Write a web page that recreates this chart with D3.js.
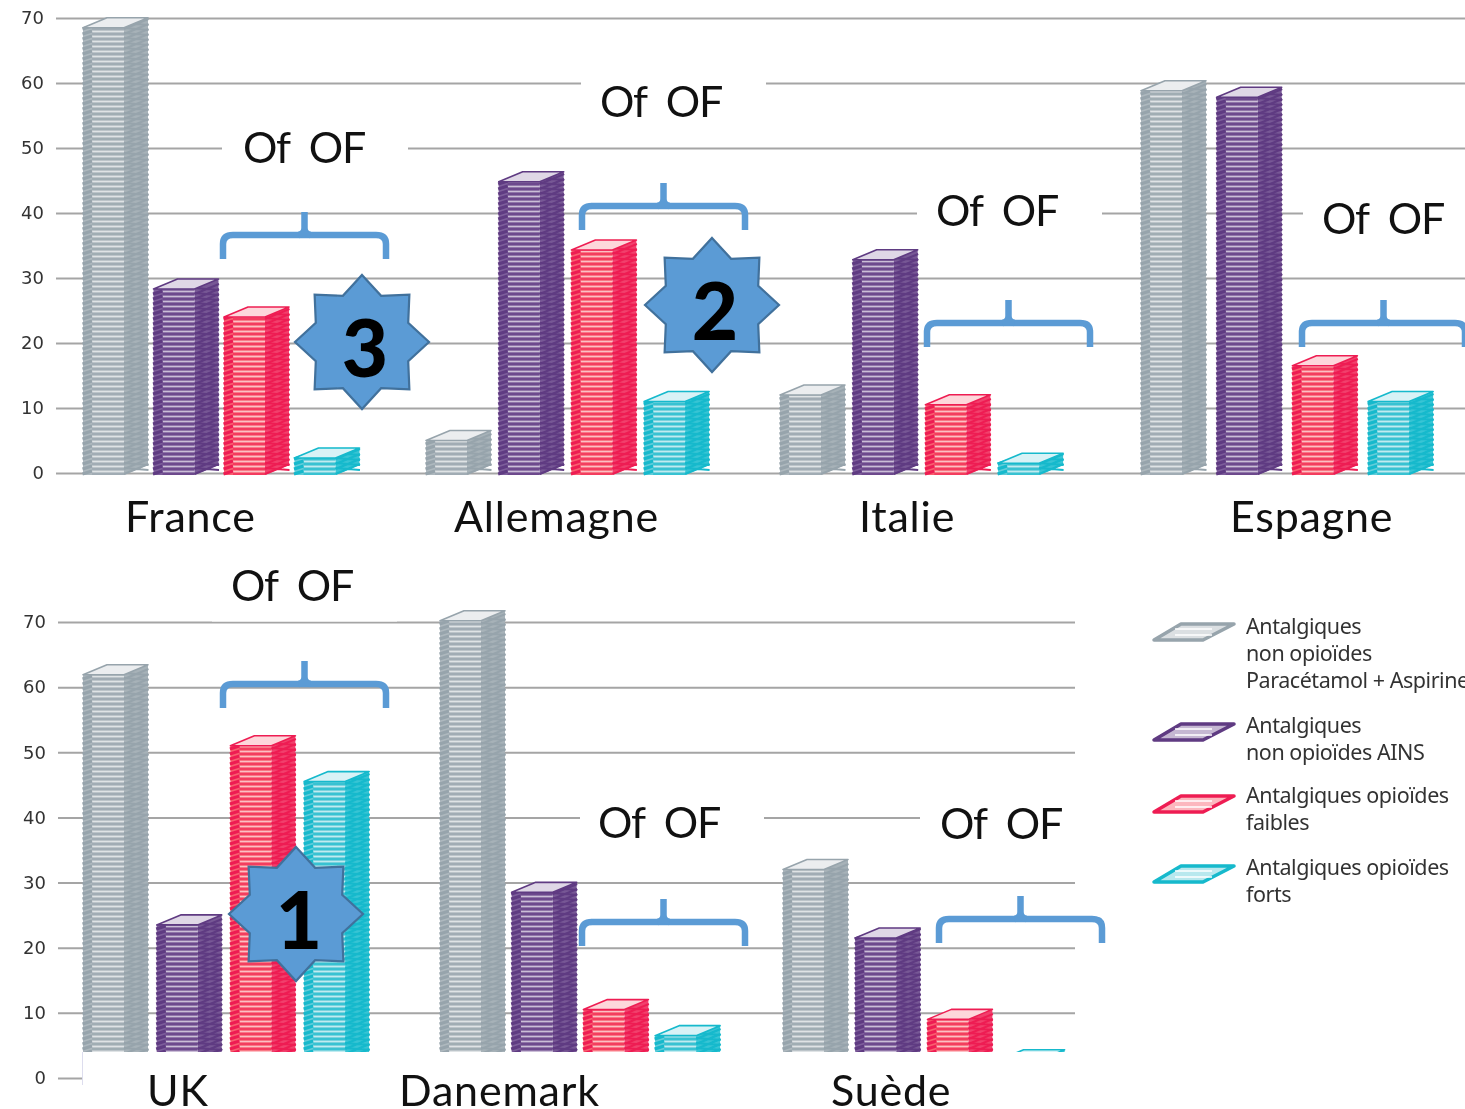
<!DOCTYPE html>
<html>
<head>
<meta charset="utf-8">
<script src="https://cdn.jsdelivr.net/npm/d3@7"></script>
<style>
  html, body { margin: 0; padding: 0; background: #fff; }
  svg { display: block; }
  .tick text { font-family: "DejaVu Sans", sans-serif; font-size: 18px; fill: #333; }
  .tick line { stroke: #a5a5a5; stroke-width: 2; }
  .label { font-family: Lato, sans-serif; font-size: 43px; fill: #111; }
  .country { letter-spacing: 0.8px; }
  .of { letter-spacing: -1.2px; }
  .badge { font-family: Lato, sans-serif; font-weight: 900; font-size: 80px; fill: #000; text-anchor: middle; }
  .legend text { font-family: "Noto Sans", sans-serif; font-size: 21.5px; letter-spacing: -0.45px; fill: #333; }
</style>
</head>
<body>
<script>
//data
var seriesNames = ["nonOpioidPara", "nonOpioidAins", "weakOpioid", "strongOpioid"];
var topCountries = ["France", "Allemagne", "Italie", "Espagne"];
var bottomCountries = ["UK", "Danemark", "Suède"];
var topValues = [
    [68.5, 28.3, 24, 2.3],
    [5, 44.8, 34.3, 11],
    [12, 32.8, 10.5, 1.5],
    [58.8, 57.8, 16.5, 11]
];
var bottomValues = [
    [61.9, 23.5, 51, 45.5],
    [70.2, 28.5, 10.5, 6.5],
    [32, 21.5, 9, 2.8]
];
var yTicks = [0, 10, 20, 30, 40, 50, 60, 70];
var legendLines = [
    ["Antalgiques", "non opioïdes", "Paracétamol + Aspirine"],
    ["Antalgiques", "non opioïdes AINS"],
    ["Antalgiques opioïdes", "faibles"],
    ["Antalgiques opioïdes", "forts"]
];

//colour for each series
var dark = d3.scaleOrdinal().domain(seriesNames).range(["#97a4ac", "#5f3a82", "#ee1f53", "#14b9cc"]);
var light = d3.scaleOrdinal().domain(seriesNames).range(["#aeb8be", "#7d5e9b", "#f8606f", "#62ccd9"]);

//layout
var w = 1465, h = 1109;
var barW = 41, depthX = 24, depthY = 10, layerGap = 5;

var svg = d3.select("body").append("svg")
    .attr("width", w)
    .attr("height", h);

var defs = svg.append("defs");
defs.append("filter").attr("id", "soft")
    .append("feGaussianBlur").attr("stdDeviation", 0.7);

var grid = svg.append("g").attr("filter", "url(#soft)");
var masks = svg.append("g");
var bars = svg.append("g").attr("filter", "url(#soft)");
var front = svg.append("g");

//scales of both panels
var yTop = d3.scaleLinear().domain([0, 70]).range([473, 18]);
var yBottom = d3.scaleLinear().domain([0, 70]).range([1078, 622]);

var groupLeftTop = d3.scaleOrdinal().domain(topCountries).range([83, 426, 780, 1141]);
var groupStepTop = d3.scaleOrdinal().domain(topCountries).range([70.5, 72.7, 72.7, 75.7]);
var groupLeftBottom = d3.scaleOrdinal().domain(bottomCountries).range([83, 440, 783]);
var groupStepBottom = d3.scaleOrdinal().domain(bottomCountries).range([73.7, 71.7, 72.2]);

function drawAxis(y, x0, x1) {
    var axis = d3.axisLeft(y)
        .tickValues(yTicks)
        .tickSize(-(x1 - x0))
        .tickPadding(12);
    var g = grid.append("g")
        .attr("transform", "translate(" + x0 + ",0)")
        .call(axis);
    g.select(".domain").remove();
}

drawAxis(yTop, 56, 1465);
drawAxis(yBottom, 58, 1075);

//white boxes behind the "Of OF" labels cut the grid lines
var gridMasks = [
    [222, 125, 186, 45],
    [581, 70, 185, 45],
    [917, 190, 185, 45],
    [1303, 190, 162, 45],
    [212, 575, 185, 46.5],
    [580, 795, 184, 45],
    [920, 795, 160, 45]
];
masks.selectAll("rect")
    .data(gridMasks)
    .enter()
    .append("rect")
    .attr("x", function(d){ return d[0]; })
    .attr("y", function(d){ return d[1]; })
    .attr("width", function(d){ return d[2]; })
    .attr("height", function(d){ return d[3]; })
    .style("fill", "#fff");

function drawBars(countries, values, y, left, step) {
    countries.forEach(function(country, c){
        var x = d3.scaleBand()
            .domain(seriesNames)
            .range([left(country), left(country) + step(country) * 4]);

        var bar = bars.selectAll(".bar-" + country)
            .data(values[c].map(function(v, i){
                return {name: seriesNames[i], value: v};
            }))
            .enter()
            .append("g")
            .attr("class", "bar-" + country)
            .attr("transform", function(d){
                return "translate(" + x(d.name) + ",0)";
            });

        //flat colours under the stripes
        bar.append("rect")
            .attr("x", 0)
            .attr("y", function(d){ return y(d.value); })
            .attr("width", barW)
            .attr("height", function(d){ return y(0) + 2 - y(d.value); })
            .style("fill", function(d){ return light(d.name); });

        bar.append("path")
            .attr("d", function(d){
                var t = y(d.value), b = y(0) + 2;
                return "M" + barW + "," + t + "L" + (barW + depthX) + "," + (t - depthY) +
                    "L" + (barW + depthX) + "," + (b - depthY) + "L" + barW + "," + b + "Z";
            })
            .style("fill", function(d){ return d3.interpolateRgb(dark(d.name), "#fff")(0.15); });

        //the bar is a stack of thin outlines
        var layer = bar.selectAll(".layer")
            .data(function(d){
                return d3.range(y(0) + 1, y(d.value), -layerGap).map(function(py){
                    return {name: d.name, py: py};
                });
            })
            .enter()
            .append("g")
            .attr("class", "layer");

        //white gap in the middle of the front
        layer.append("line")
            .attr("x1", 9).attr("x2", barW)
            .attr("y1", function(d){ return d.py - 2.5; })
            .attr("y2", function(d){ return d.py - 2.5; })
            .style("stroke", "#fff")
            .style("stroke-opacity", 0.6)
            .style("stroke-width", 1.6);

        layer.append("line")
            .attr("x1", 9).attr("x2", barW)
            .attr("y1", function(d){ return d.py; })
            .attr("y2", function(d){ return d.py; })
            .style("stroke", function(d){ return dark(d.name); })
            .style("stroke-opacity", 0.7)
            .style("stroke-width", 1.6);

        //left edge with jagged ends
        layer.append("line")
            .attr("x1", -0.5).attr("x2", 9)
            .attr("y1", function(d){ return d.py; })
            .attr("y2", function(d){ return d.py - 3; })
            .style("stroke", function(d){ return dark(d.name); })
            .style("stroke-width", 3);

        //crossing lines on the side
        layer.append("path")
            .attr("d", function(d){
                return "M" + barW + "," + d.py + "L" + (barW + depthX + 0.5) + "," + (d.py - depthY) +
                    "M" + barW + "," + (d.py - depthY + 4) + "L" + (barW + depthX + 0.5) + "," + (d.py - 4);
            })
            .style("fill", "none")
            .style("stroke", function(d){ return dark(d.name); })
            .style("stroke-width", 2);

        //top cap
        bar.append("path")
            .attr("d", function(d){
                var t = y(d.value);
                return "M0," + t + "L" + depthX + "," + (t - depthY) + "L" + (barW + depthX) + "," + (t - depthY) +
                    "L" + barW + "," + t + "Z";
            })
            .style("fill", function(d){ return d3.interpolateRgb(light(d.name), "#fff")(0.75); })
            .style("stroke", function(d){ return dark(d.name); })
            .style("stroke-width", 1.6)
            .style("stroke-linejoin", "round");
    });
}

drawBars(topCountries, topValues, yTop, groupLeftTop, groupStepTop);
drawBars(bottomCountries, bottomValues, yBottom, groupLeftBottom, groupStepBottom);

//white box over the foot of the lower panel
front.append("rect")
    .attr("x", 83)
    .attr("y", 1052)
    .attr("width", 1000)
    .attr("height", 57)
    .style("fill", "#fff");
front.append("line")
    .attr("x1", 82.5).attr("x2", 82.5)
    .attr("y1", 1052).attr("y2", 1085)
    .style("stroke", "#dde")
    .style("stroke-width", 1);

//country names
var countryLabels = [
    ["France", 125, 532],
    ["Allemagne", 454, 532],
    ["Italie", 859, 532],
    ["Espagne", 1230, 532],
    ["UK", 147, 1106],
    ["Danemark", 399, 1106],
    ["Suède", 831, 1106]
];
front.selectAll(".country")
    .data(countryLabels)
    .enter()
    .append("text")
    .attr("class", "label country")
    .attr("x", function(d){ return d[1]; })
    .attr("y", function(d){ return d[2]; })
    .text(function(d){ return d[0]; });

//"Of OF" labels
var ofLabels = [
    [243, 163], [600, 117], [936, 226], [1322, 234],
    [231, 601], [598, 838], [940, 839]
];
front.selectAll(".of")
    .data(ofLabels)
    .enter()
    .append("text")
    .attr("class", "label of")
    .attr("x", function(d){ return d[0]; })
    .attr("y", function(d){ return d[1]; })
    .style("white-space", "pre")
    .text("Of  OF");

//curly brackets above the opioid bars
var braces = [
    [223, 212], [582, 183], [927, 300], [1302, 300],
    [223, 661], [582, 899], [939, 896]
];
var brace = front.selectAll(".brace")
    .data(braces)
    .enter()
    .append("g")
    .attr("class", "brace")
    .style("fill", "none")
    .style("stroke", "#5b9bd5")
    .style("stroke-width", 6.5);
brace.append("path")
    .attr("d", function(d){
        var x = d[0], t = d[1], right = x + 163;
        return "M" + x + "," + (t + 47) +
            "V" + (t + 32) +
            "Q" + x + "," + (t + 23) + " " + (x + 10) + "," + (t + 23) +
            "H" + (right - 10) +
            "Q" + right + "," + (t + 23) + " " + right + "," + (t + 32) +
            "V" + (t + 47);
    });
brace.append("path")
    .attr("d", function(d){
        var mid = d[0] + 81.5, t = d[1];
        return "M" + mid + "," + t + "V" + (t + 16) +
            "Q" + mid + "," + (t + 22) + " " + (mid - 6) + "," + (t + 23) +
            "M" + mid + "," + (t + 16) +
            "Q" + mid + "," + (t + 22) + " " + (mid + 6) + "," + (t + 23);
    });

//rank stars
var stars = [
    ["3", 362, 342],
    ["2", 712, 305],
    ["1", 296, 914]
];
var starLine = d3.lineRadial().curve(d3.curveLinearClosed);
var starPoints = d3.range(16).map(function(i){
    return [i * Math.PI / 8, i % 2 ? 50 : 67];
});
var star = front.selectAll(".star")
    .data(stars)
    .enter()
    .append("g")
    .attr("class", "star")
    .attr("transform", function(d){
        return "translate(" + d[1] + "," + d[2] + ")";
    });
star.append("path")
    .attr("d", starLine(starPoints))
    .style("fill", "#5b9bd5")
    .style("stroke", "#41719c")
    .style("stroke-width", 2.2);
star.append("text")
    .attr("class", "badge")
    .attr("x", 3)
    .attr("y", 35)
    .text(function(d){ return d[0]; });

//legend
var legendY = d3.scaleOrdinal().domain(seriesNames).range([632, 732, 804, 874]);
var legendTextY = d3.scaleOrdinal().domain(seriesNames).range([634, 733, 803, 875]);

var legend = svg.append("g")
    .attr("class", "legend")
    .attr("filter", "url(#soft)");

var entry = legend.selectAll("g")
    .data(seriesNames)
    .enter()
    .append("g");

entry.append("path")
    .attr("d", function(d){
        var c = legendY(d);
        return "M1154," + (c + 8) + "L1181," + (c - 8) + "H1234L1203," + (c + 8) + "Z";
    })
    .style("fill", function(d){ return d3.interpolateRgb(light(d), "#fff")(0.55); })
    .style("stroke", function(d){ return dark(d); })
    .style("stroke-width", 3.5)
    .style("stroke-linejoin", "round");

//white gaps inside the swatch
entry.selectAll(".gap")
    .data(function(d){
        return [{name: d, dy: -3}, {name: d, dy: 3}];
    })
    .enter()
    .append("line")
    .attr("class", "gap")
    .attr("x1", 1175).attr("x2", 1212)
    .attr("y1", function(d){ return legendY(d.name) + d.dy; })
    .attr("y2", function(d){ return legendY(d.name) + d.dy; })
    .style("stroke", "#fff")
    .style("stroke-width", 1.6);

entry.each(function(d, i){
    d3.select(this).selectAll("text")
        .data(legendLines[i])
        .enter()
        .append("text")
        .attr("x", 1246)
        .attr("y", function(t, k){ return legendTextY(d) + k * 27; })
        .text(function(t){ return t; });
});
</script>
</body>
</html>
